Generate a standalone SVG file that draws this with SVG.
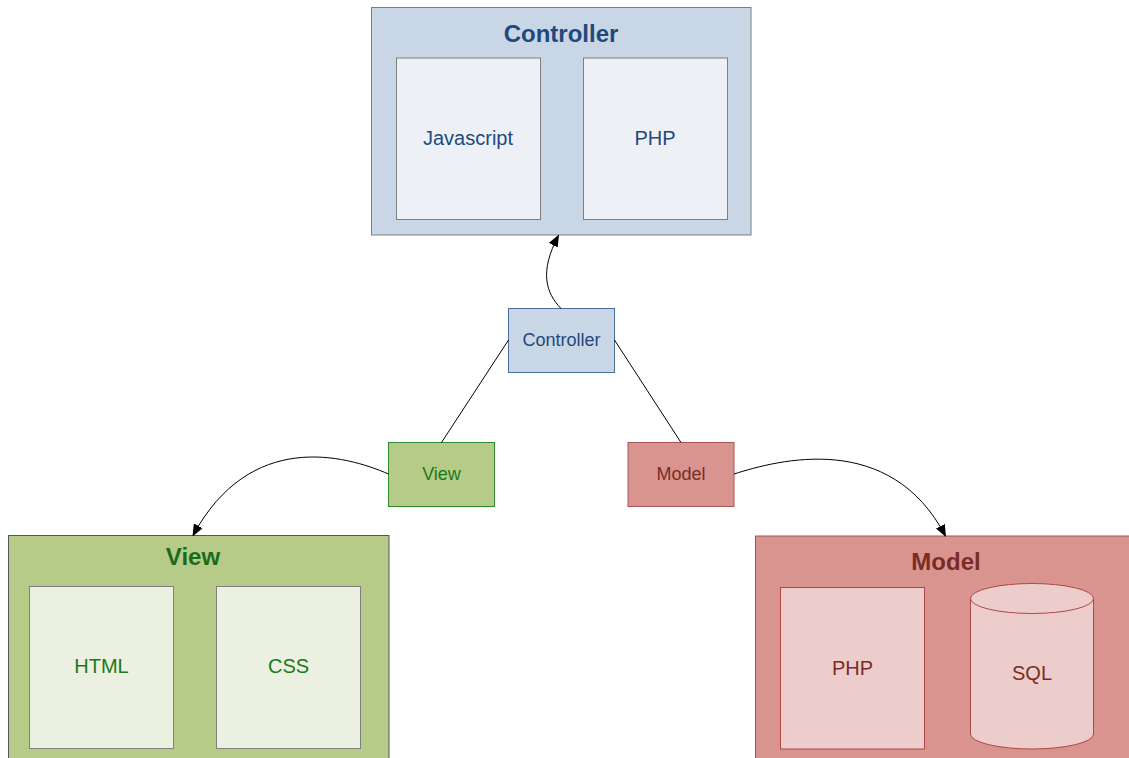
<svg xmlns="http://www.w3.org/2000/svg" width="1129" height="758" viewBox="0 0 1129 758">
<defs>
<marker id="arr" viewBox="0 0 12 10" refX="11" refY="5" markerWidth="12" markerHeight="10" markerUnits="userSpaceOnUse" orient="auto">
<path d="M0,0 L12,5 L0,10 z" fill="#000"/>
</marker>
<style>
text{font-family:"Liberation Sans",Arial,sans-serif;text-anchor:middle}
.t{font-size:24px;font-weight:bold}
.s{font-size:20px}
.m{font-size:18px}
.cb{fill:#C9D6E6;stroke:#7F7F7F;stroke-width:1}
.ci{fill:#EDF1F6;stroke:#7F7F7F;stroke-width:1}
.ct{fill:#22497D}
.vb{fill:#B7CB88;stroke:#555;stroke-width:1}
.vi{fill:#EBF0E1;stroke:#7F7F7F;stroke-width:1}
.vt{fill:#1A7A1A}
.mb{fill:#D9948F;stroke:#B05050;stroke-width:1}
.mi{fill:#EDCDCB;stroke:#B04848;stroke-width:1}
.mt{fill:#7A2C26}
.c{fill:none;stroke:#000;stroke-width:1}
</style>
</defs>
<g id="controller-group">
<rect class="cb" x="371.5" y="7.5" width="379.5" height="227.5"/>
<text class="t ct" x="561" y="42">Controller</text>
<rect class="ci" x="396.5" y="58" width="144" height="161.5"/>
<text class="s ct" x="468" y="145">Javascript</text>
<rect class="ci" x="583.5" y="58" width="144" height="161.5"/>
<text class="s ct" x="655" y="145">PHP</text>
</g>
<g id="view-group">
<rect class="vb" x="8.5" y="535.5" width="380.5" height="240"/>
<text class="t" fill="#1B6B1B" x="193" y="565">View</text>
<rect class="vi" x="29.5" y="586.5" width="144" height="162"/>
<text class="s vt" x="101.5" y="673">HTML</text>
<rect class="vi" x="216.5" y="586.5" width="144" height="162"/>
<text class="s vt" x="288.5" y="673">CSS</text>
</g>
<g id="model-group">
<rect class="mb" x="755.5" y="536" width="390" height="240"/>
<text class="t mt" x="946" y="570">Model</text>
<rect class="mi" x="780.5" y="587.5" width="144" height="161.5"/>
<text class="s mt" x="852.5" y="675">PHP</text>
<path class="mi" d="M970.5,598.5 L970.5,734 A61.5,15 0 0 0 1093.5,734 L1093.5,598.5 A61.5,15 0 0 0 970.5,598.5 A61.5,15 0 0 0 1093.5,598.5"/>
<text class="s mt" x="1032" y="680">SQL</text>
</g>
<g id="controller">
<rect x="508.5" y="308.5" width="106" height="64" fill="#C9D6E6" stroke="#4A6FA0"/>
<text class="m ct" x="561.5" y="346">Controller</text>
</g>
<g id="view">
<rect x="388.5" y="442.5" width="106" height="64" fill="#B7CB88" stroke="#2E8B2E"/>
<text class="m vt" x="441.5" y="480">View</text>
</g>
<g id="model">
<rect x="628" y="442.5" width="106" height="64" fill="#D9948F" stroke="#A85858"/>
<text class="m mt" x="681" y="480">Model</text>
</g>
<g id="connectors">
<path class="c" d="M508.5,340 L441.5,442.5"/>
<path class="c" d="M614.5,340 L681,442.5"/>
<path class="c" marker-end="url(#arr)" d="M561,308.5 C546,293 539,272 558.5,235.5"/>
<path class="c" marker-end="url(#arr)" d="M388.5,474 C345,455 250,430 193,535.5"/>
<path class="c" marker-end="url(#arr)" d="M734,474 C778,460 890,430 945.5,536"/>
</g>
</svg>
